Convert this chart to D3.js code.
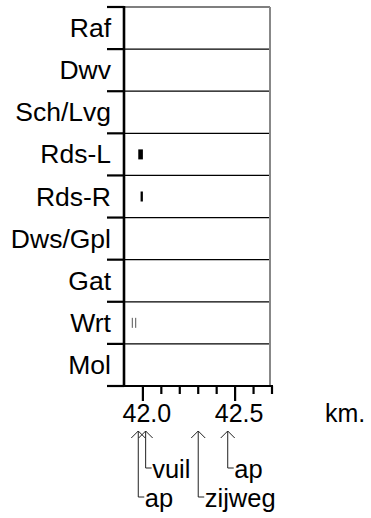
<!DOCTYPE html>
<html><head><meta charset="utf-8">
<script src="https://cdn.jsdelivr.net/npm/d3@7"></script>
<style>body{margin:0;background:#fff}svg{display:block}text{font-family:Arial,"Liberation Sans",sans-serif}</style>
</head><body>
<script>
const categories = ["Raf","Dwv","Sch/Lvg","Rds-L","Rds-R","Dws/Gpl","Gat","Wrt","Mol"];
const barCategory = ["Rds-L","Rds-R","Wrt","Wrt"];
const barStart = [41.975, 41.9875, 41.9399, 41.9583];
const barEnd   = [42.0,   42.0,    41.9453, 41.9637];
const majorTicks = [42.0, 42.5];
const minorTicks = [42.1, 42.2, 42.3, 42.4, 42.6, 42.7];
const tickLabels = ["42.0", "42.5"];
const unitLabel = "km.";
const annKm = [41.975, 42.015, 42.30, 42.46];
const annLabel = ["ap", "vuil", "zijweg", "ap"];
const annLevel = [1, 0, 1, 0];

(function () {
const W = 371, H = 518;
const svg = d3.select("body").append("svg").attr("width", W).attr("height", H);
const x = d3.scaleLinear().domain([41.8, 42.7]).range([106, 272]);
const y = d3.scaleBand().domain(categories).range([7, 386]).paddingInner(0);
const pl = 124, pr = 270, pt = 7, pb = 386;

// row separators
const bounds = categories.map(c => y(c)).concat([pb]);
svg.append("g").selectAll("line").data(bounds).join("line")
  .attr("x1", pl).attr("x2", pr).attr("y1", d => d).attr("y2", d => d)
  .attr("stroke", "#000").attr("stroke-width", 1.2);
// right border
svg.append("line").attr("x1", pr).attr("x2", pr).attr("y1", pt).attr("y2", pb)
  .attr("stroke", "#888").attr("stroke-width", 2);
// left ticks
svg.append("g").selectAll("line").data(bounds).join("line")
  .attr("x1", 107).attr("x2", pl).attr("y1", d => d).attr("y2", d => d)
  .attr("stroke", "#000").attr("stroke-width", 2.2);
// y axis line
svg.append("line").attr("x1", pl).attr("x2", pl).attr("y1", pt - 1).attr("y2", pb)
  .attr("stroke", "#000").attr("stroke-width", 2.6);
// category labels
svg.append("g").selectAll("text").data(categories).join("text")
  .attr("x", 111).attr("y", d => y(d) + y.bandwidth() / 2 + 9)
  .attr("text-anchor", "end").attr("font-size", 26.5).attr("fill", "#000").text(d => d);

// bars
const bars = barCategory.map((c, i) => ({c, s: barStart[i], e: barEnd[i]}));
svg.append("g").selectAll("rect").data(bars).join("rect")
  .attr("x", d => x(d.s)).attr("width", d => x(d.e) - x(d.s))
  .attr("y", d => y(d.c) + y.bandwidth() / 2 - 5).attr("height", 10)
  .attr("fill", d => (x(d.e) - x(d.s)) < 1.5 ? "#555" : "#000");

// x axis
svg.append("line").attr("x1", 107).attr("x2", x(42.7) + 1).attr("y1", pb).attr("y2", pb)
  .attr("stroke", "#000").attr("stroke-width", 2.2);
svg.append("g").selectAll("line").data(minorTicks).join("line")
  .attr("x1", d => x(d)).attr("x2", d => x(d)).attr("y1", pb).attr("y2", pb + 8)
  .attr("stroke", "#000").attr("stroke-width", 2.2);
svg.append("g").selectAll("line").data(majorTicks).join("line")
  .attr("x1", d => x(d)).attr("x2", d => x(d)).attr("y1", pb).attr("y2", pb + 15)
  .attr("stroke", "#000").attr("stroke-width", 2.2);
svg.append("g").selectAll("text").data(majorTicks).join("text")
  .attr("x", d => x(d) + 4).attr("y", 422).attr("text-anchor", "middle")
  .attr("font-size", 25).attr("fill", "#000").text((d, i) => tickLabels[i]);
svg.append("text").attr("x", 325).attr("y", 422).attr("font-size", 25).attr("fill", "#000").text(unitLabel);

// annotations
const ann = annKm.map((k, i) => ({k, label: annLabel[i], lvl: annLevel[i]}));
const tipY = 431;
const g = svg.append("g").attr("fill", "none").attr("stroke", "#222").attr("stroke-width", 1);
ann.forEach(d => {
  const px = x(d.k);
  const base = d.lvl === 0 ? 478 : 507;
  const cy = base - 10;
  g.append("path").attr("d", `M${px - 7},${tipY + 7}L${px},${tipY}L${px + 7},${tipY + 7}`);
  g.append("path").attr("d", `M${px},${tipY}V${cy}H${px + 6}`);
  svg.append("text").attr("x", px + 6.5).attr("y", base).attr("font-size", 25.5)
    .attr("fill", "#000").text(d.label);
});
})();
</script>
</body></html>
